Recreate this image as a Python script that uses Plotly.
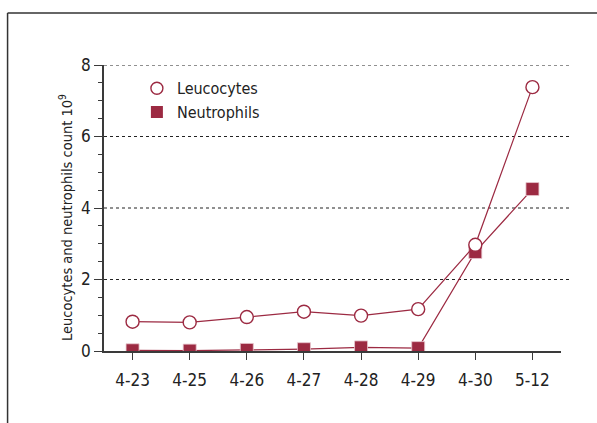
import plotly.graph_objects as go

dates = ["4-23", "4-25", "4-26", "4-27", "4-28", "4-29", "4-30", "5-12"]
leucocytes = [0.82, 0.80, 0.95, 1.10, 0.99, 1.17, 2.97, 7.38]
neutrophils = [0.02, 0.01, 0.03, 0.05, 0.10, 0.08, 2.77, 4.53]
y_ticks = [0, 2, 4, 6, 8]
grid_levels = [2, 4, 6, 8]
y_title = "Leucocytes and neutrophils count 10<sup>9</sup>"

RED = "#9c2a42"
AXIS = "#3a3a3a"
FONT = "Liberation Sans Narrow, DejaVu Sans Condensed, sans-serif"

square_marker = dict(symbol="square", size=13, color=RED, line=dict(color="#e8c8cf", width=0.8))
circle_marker = dict(symbol="circle", size=13, color="white", line=dict(color=RED, width=1.4))

fig = go.Figure()
fig.add_trace(go.Scatter(
    x=dates, y=neutrophils, name="Neutrophils", mode="lines+markers",
    line=dict(color=RED, width=1.2), marker=square_marker, showlegend=False,
))
fig.add_trace(go.Scatter(
    x=dates, y=leucocytes, name="Leucocytes", mode="lines+markers",
    line=dict(color=RED, width=1.2), marker=circle_marker, showlegend=False,
))
# legend entries show the marker only
fig.add_trace(go.Scatter(x=[None], y=[None], name="Neutrophils", mode="markers",
                         marker=dict(symbol="square", size=12, color=RED)))
fig.add_trace(go.Scatter(x=[None], y=[None], name="Leucocytes", mode="markers",
                         marker=dict(symbol="circle", size=12, color="white", line=dict(color=RED, width=1.4))))

shapes = []
for g in grid_levels:
    shapes.append(dict(type="line", xref="paper", yref="y", x0=0.0, x1=1.02, y0=g, y1=g,
                       line=dict(color="#222", width=1.2, dash="dot"), layer="below"))
# outer frame (top and left edges)
shapes.append(dict(type="line", xref="paper", yref="paper", x0=-0.211, x1=1.2, y0=1.182, y1=1.182,
                   line=dict(color="#333", width=1.5)))
shapes.append(dict(type="line", xref="paper", yref="paper", x0=-0.211, x1=-0.211, y0=1.182, y1=-0.3,
                   line=dict(color="#333", width=1.5)))

fig.update_layout(
    width=597, height=423,
    margin=dict(l=104, r=36, t=65, b=72),
    paper_bgcolor="white", plot_bgcolor="white",
    font=dict(family=FONT, size=16, color="#222"),
    showlegend=True,
    legend=dict(x=0.072, y=0.978, xanchor="left", yanchor="top", traceorder="reversed",
                bgcolor="rgba(0,0,0,0)", font=dict(size=16), itemwidth=30,
                tracegroupgap=0),
    shapes=shapes,
    annotations=[dict(text=y_title, textangle=-90, xref="paper", yref="paper",
                      x=-0.083, y=0.465, xanchor="center", yanchor="middle",
                      showarrow=False, font=dict(size=14.5, color="#222"))],
    xaxis=dict(
        type="category", range=[-0.5, 7.5], showgrid=False,
        showline=True, linecolor=AXIS, linewidth=1.5,
        ticks="outside", ticklen=7, tickwidth=1.2, tickcolor=AXIS,
        tickfont=dict(size=17), ticklabelstandoff=6,
    ),
    yaxis=dict(
        range=[0, 8], tickvals=y_ticks, showgrid=False, zeroline=False,
        showline=True, linecolor=AXIS, linewidth=1.5,
        ticks="outside", ticklen=8, tickwidth=1.2, tickcolor=AXIS,
        minor=dict(dtick=0.5, ticks="outside", ticklen=4, tickwidth=1, tickcolor=AXIS),
        tickfont=dict(size=17),
    ),
)

fig.write_html("out.html")
